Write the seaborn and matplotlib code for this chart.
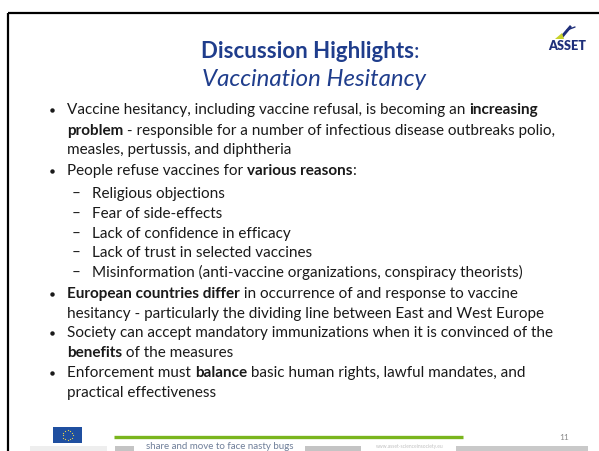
import matplotlib
matplotlib.use("Agg")
import math
import matplotlib.pyplot as plt
import seaborn as sns
from matplotlib.patches import Rectangle, Polygon

sns.set_theme(style="white")
plt.rcParams['font.family'] = ['Lato', 'DejaVu Sans']

# ---- slide content ----
title_bold = "Discussion Highlights"
title_colon = ":"
subtitle = "Vaccination Hesitancy"

# each line: (level, [(text, bold), ...]); level 0 = first line of bullet, 'c' = continuation
line_levels = [0, 'c', 'c', 0, 1, 1, 1, 1, 1, 0, 'c', 0, 'c', 0, 'c']
line_segments = [
    [("Vaccine hesitancy, including vaccine refusal, is becoming an ", False), ("increasing", True)],
    [("problem", True), (" - responsible for a number of infectious disease outbreaks polio,", False)],
    [("measles, pertussis, and diphtheria", False)],
    [("People refuse vaccines for ", False), ("various reasons", True), (":", False)],
    [("Religious objections", False)],
    [("Fear of side-effects", False)],
    [("Lack of confidence in efficacy", False)],
    [("Lack of trust in selected vaccines", False)],
    [("Misinformation (anti-vaccine organizations, conspiracy theorists)", False)],
    [("European countries differ", True), (" in occurrence of and response to vaccine", False)],
    [("hesitancy - particularly the dividing line between East and West Europe", False)],
    [("Society can accept mandatory immunizations when it is convinced of the", False)],
    [("benefits", True), (" of the measures", False)],
    [("Enforcement must ", False), ("balance", True), (" basic human rights, lawful mandates, and", False)],
    [("practical effectiveness", False)],
]
footer_slogan = "share and move to face nasty bugs"
footer_url = "www.asset-scienceinsociety.eu"
page_number = "11"
logo_text = "ASSET"

# ---- figure ----
W, H = 599, 451
fig = plt.figure(figsize=(W / 100, H / 100), dpi=100)
fig.patch.set_facecolor("white")
ax = fig.add_axes([0, 0, 1, 1])
ax.set_xlim(0, W)
ax.set_ylim(H, 0)
ax.axis("off")
renderer = fig.canvas.get_renderer()

def text_width(s, **kw):
    a = ax.text(0, 0, "|" + s + "|", **kw)
    b = ax.text(0, 0, "||", **kw)
    w = a.get_window_extent(renderer).width - b.get_window_extent(renderer).width
    a.remove(); b.remove()
    return w

def fit_size(s, target, **kw):
    return 10.0 * target / text_width(s, fontsize=10.0, **kw)

TITLE_COLOR = "#1f3d8c"
BODY_COLOR = "#1a1a1a"

# border
ax.plot([8, W], [13, 13], color="black", lw=1.6, solid_capstyle="butt")
ax.plot([8, 8], [13, H], color="black", lw=1.6, solid_capstyle="butt")

# title
tsize = 16.0
wb = text_width(title_bold, fontsize=tsize, fontweight="bold")
wc = text_width(title_colon, fontsize=tsize)
cx = 310
x0 = cx - (wb + wc) / 2
ax.text(x0, 58, title_bold, fontsize=tsize, fontweight="bold", color=TITLE_COLOR, va="baseline", ha="left")
ax.text(x0 + wb, 58, title_colon, fontsize=tsize, color=TITLE_COLOR, va="baseline", ha="left")
ssize = fit_size(subtitle, 224, style="italic")
ax.text(314, 86, subtitle, fontsize=ssize, style="italic", color=TITLE_COLOR, va="baseline", ha="center")

# body: fit font size so first line spans ~470 px
first = line_segments[0]
bsize = 10.0
wtot = sum(text_width(t, fontsize=bsize, fontweight="bold" if b else "normal") for t, b in first)
bsize = bsize * 470.0 / wtot

y_centers = [109, 130, 149, 170, 193, 213, 233, 252, 272, 293, 313, 332, 352, 372, 392]
for lvl, segs, yc in zip(line_levels, line_segments, y_centers):
    yb = yc + 5
    if lvl == 1:
        ax.text(72, yb, "\u2013", fontsize=bsize, color=BODY_COLOR, va="baseline")
        x = 92
    else:
        if lvl == 0:
            ax.plot(52, yc + 0.5, "o", ms=3.2, color=BODY_COLOR, mew=0)
        x = 67
    for t, b in segs:
        fw = "bold" if b else "normal"
        ax.text(x, yb, t, fontsize=bsize, fontweight=fw, color=BODY_COLOR, va="baseline", ha="left")
        x += text_width(t, fontsize=bsize, fontweight=fw)

# ASSET logo
ax.add_patch(Polygon([[558, 39], [570, 25], [572, 27], [562, 39]], closed=True, color="#1f2f7a", lw=0))
ax.add_patch(Polygon([[555, 39], [562, 33], [564, 39]], closed=True, color="#c8d22a", lw=0))
ax.plot([567, 575], [30, 27], color="#1f2f7a", lw=1)
lsize = fit_size(logo_text, 38, fontweight="heavy")
ax.text(567, 46, logo_text, fontsize=lsize, fontweight="heavy", color="#1f2f7a", ha="center", va="center")

# footer
ax.add_patch(Rectangle((53, 427), 29, 16, color="#1f4fa0", lw=0))
for k in range(12):
    a = 2 * math.pi * k / 12
    ax.plot(67.5 + 5 * math.cos(a), 435 + 5 * math.sin(a), "o", ms=0.9, color="#e8d24a", mew=0)
ax.plot([114, 463], [437, 437], color="#7ab51d", lw=2.4, solid_capstyle="butt")
ax.text(564, 438, page_number, fontsize=6, color="#8a8a8a", ha="center", va="center")
for x1, x2, c in [(115, 134, "#c4c4c4"), (305, 361, "#c4c4c4"), (456, 588, "#c9c9c9"), (30, 107, "#eeeeee")]:
    ax.add_patch(Rectangle((x1, 446), x2 - x1, 6, color=c, lw=0))
fsize = fit_size(footer_slogan, 148)
ax.text(146, 446.5, footer_slogan, fontsize=fsize, color="#6f7f99", ha="left", va="center")
usize = fit_size(footer_url, 67)
ax.text(376, 446.5, footer_url, fontsize=usize, color="#c0c0c0", ha="left", va="center")

fig.savefig("out.png", dpi=100, facecolor="white")
